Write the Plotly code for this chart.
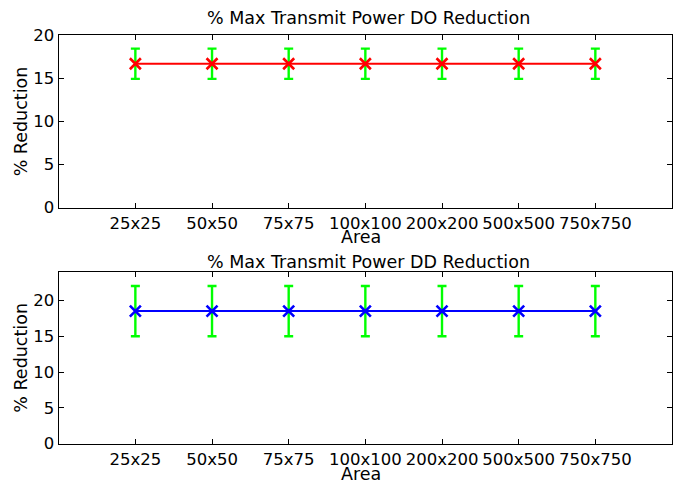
import plotly.graph_objects as go

categories = ["25x25", "50x50", "75x75", "100x100", "200x200", "500x500", "750x750"]
do_mean = [16.67, 16.67, 16.67, 16.67, 16.67, 16.67, 16.67]
do_err_plus = [1.75, 1.75, 1.75, 1.75, 1.75, 1.75, 1.75]
do_err_minus = [1.75, 1.75, 1.75, 1.75, 1.75, 1.75, 1.75]
dd_mean = [18.5, 18.5, 18.5, 18.5, 18.5, 18.5, 18.5]
dd_err_plus = [3.5, 3.5, 3.5, 3.5, 3.5, 3.5, 3.5]
dd_err_minus = [3.5, 3.5, 3.5, 3.5, 3.5, 3.5, 3.5]
xpos = list(range(1, len(categories) + 1))

FONT = "DejaVu Sans, Arial, Helvetica, sans-serif"
FS_TICK = 16.5
FS_TEXT = 17.5

fig = go.Figure()

def add_panel(mean, ep, em, color, xa, ya):
    fig.add_trace(go.Scatter(
        x=xpos, y=mean, mode="markers", marker=dict(opacity=0, size=1),
        error_y=dict(type="data", symmetric=False, array=ep, arrayminus=em,
                     color="#00ff00", thickness=2.4, width=4.5),
        xaxis=xa, yaxis=ya, showlegend=False, hoverinfo="skip"))
    fig.add_trace(go.Scatter(
        x=xpos, y=mean, mode="lines+markers",
        line=dict(color=color, width=2),
        marker=dict(symbol="x-thin", size=11, line=dict(color=color, width=2.6), color=color),
        xaxis=xa, yaxis=ya, showlegend=False))

add_panel(do_mean, do_err_plus, do_err_minus, "#ff0000", "x", "y")
add_panel(dd_mean, dd_err_plus, dd_err_minus, "#0000ff", "x2", "y2")

# page has an 8px body margin; work in figure coordinates = page - 8
OFF = 8
W, H = 674, 475
xl, xr = 58.7 - OFF, 672 - OFF
top1, bot1 = 35 - OFF, 207.7 - OFF
top2, bot2 = 271.7 - OFF, 443.7 - OFF

axis_common = dict(showline=True, linecolor="black", linewidth=1.2, mirror="ticks",
                   ticks="inside", ticklen=5, tickcolor="black", tickwidth=1,
                   showgrid=False, zeroline=False, automargin=False,
                   tickfont=dict(family=FONT, size=FS_TICK, color="black"))

fig.update_layout(
    width=W, height=H, margin=dict(l=0, r=0, t=0, b=0, autoexpand=False),
    paper_bgcolor="white", plot_bgcolor="white",
    font=dict(family=FONT, size=FS_TICK, color="black"),
    xaxis=dict(domain=[xl / W, xr / W], range=[0, 8], tickvals=xpos, ticktext=categories,
               anchor="y", **axis_common),
    yaxis=dict(domain=[1 - bot1 / H, 1 - top1 / H], range=[0, 20], tickvals=[0, 5, 10, 15, 20],
               anchor="x", **axis_common),
    xaxis2=dict(domain=[xl / W, xr / W], range=[0, 8], tickvals=xpos, ticktext=categories,
                anchor="y2", **axis_common),
    yaxis2=dict(domain=[1 - bot2 / H, 1 - top2 / H], range=[0, 24], tickvals=[0, 5, 10, 15, 20],
                anchor="x2", **axis_common),
)

anns = [
    ("% Max Transmit Power DO Reduction", 368, 18, 0),
    ("Area", 361, 237, 0),
    ("% Max Transmit Power DD Reduction", 368, 262, 0),
    ("Area", 361, 474, 0),
    ("% Reduction", 21, (35 + 207.7) / 2, -90),
    ("% Reduction", 21, (271.7 + 443.7) / 2, -90),
]
for text, x, y, ang in anns:
    fig.add_annotation(text=text, x=(x - OFF) / W, y=1 - (y - OFF) / H,
                       xref="paper", yref="paper",
                       xanchor="center", yanchor="middle", showarrow=False,
                       textangle=ang, font=dict(family=FONT, size=FS_TEXT, color="black"))

fig.write_html("out.html")
